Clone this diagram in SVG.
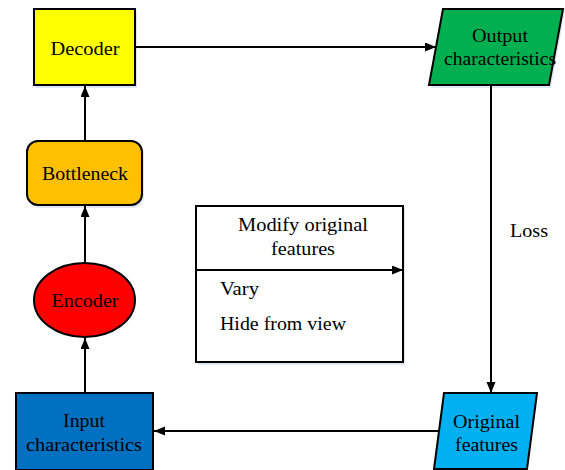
<svg xmlns="http://www.w3.org/2000/svg" width="565" height="470" viewBox="0 0 565 470">
<defs>
<marker id="arr" markerWidth="12" markerHeight="10" refX="11" refY="4.5" orient="auto" markerUnits="userSpaceOnUse">
<path d="M0,0 L11,4.5 L0,9 z" fill="#000"/>
</marker>
<style>
.n{stroke:#000;stroke-width:2}
.sh{fill:#dfe8f2;stroke:none}
text{font-family:"Liberation Serif","Times New Roman","DejaVu Serif",serif;font-size:18px;fill:#000}
.t{text-anchor:middle}
.c{stroke:#000;stroke-width:2;fill:none;marker-end:url(#arr)}
</style>
</defs>
<rect width="565" height="470" fill="#fff"/>
<g id="decoder">
<rect class="sh" x="36" y="11" width="101" height="77"/>
<rect class="n" x="34" y="9" width="101" height="76" fill="#FFFF00"/>
<text class="t" x="85" y="55" textLength="69" lengthAdjust="spacingAndGlyphs">Decoder</text>
</g>
<g id="bottleneck">
<rect class="sh" x="29" y="143" width="115" height="65" rx="11"/>
<rect class="n" x="27" y="141" width="115" height="64" rx="11" fill="#FFC000"/>
<text class="t" x="85" y="180" textLength="86" lengthAdjust="spacingAndGlyphs">Bottleneck</text>
</g>
<g id="encoder">
<ellipse class="n" cx="84.5" cy="300" rx="50.5" ry="37" fill="#FF0000"/>
<text class="t" x="85" y="307" textLength="67" lengthAdjust="spacingAndGlyphs">Encoder</text>
</g>
<g id="input">
<rect class="n" x="16" y="393" width="137" height="77" fill="#0070C0"/>
<text class="t" x="84" y="427" textLength="42" lengthAdjust="spacingAndGlyphs">Input</text>
<text class="t" x="84" y="451" textLength="116" lengthAdjust="spacingAndGlyphs">characteristics</text>
</g>
<g id="output">
<polygon class="sh" points="445,11 565,11 551,88 431,88"/>
<polygon class="n" points="443,9 563,9 549,85 429,85" fill="#00B050"/>
<text class="t" x="500" y="42" textLength="56" lengthAdjust="spacingAndGlyphs">Output</text>
<text class="t" x="500" y="65" textLength="112" lengthAdjust="spacingAndGlyphs">characteristics</text>
</g>
<g id="original">
<polygon class="n" points="444,393 537,393 527,469 434,469" fill="#00B0F0"/>
<text class="t" x="486.5" y="428" textLength="67" lengthAdjust="spacingAndGlyphs">Original</text>
<text class="t" x="486.5" y="451" textLength="63" lengthAdjust="spacingAndGlyphs">features</text>
</g>
<g id="modify">
<rect class="sh" x="198" y="208" width="207" height="157"/>
<rect class="n" x="196" y="206" width="207" height="156" fill="#fff"/>
<text class="t" x="303" y="231" textLength="130" lengthAdjust="spacingAndGlyphs">Modify original</text>
<text class="t" x="303" y="255" textLength="64" lengthAdjust="spacingAndGlyphs">features</text>
<text x="220" y="295" textLength="39" lengthAdjust="spacingAndGlyphs">Vary</text>
<text x="220" y="330" textLength="126" lengthAdjust="spacingAndGlyphs">Hide from view</text>
</g>
<g id="loss">
<text x="510" y="237" textLength="38" lengthAdjust="spacingAndGlyphs">Loss</text>
</g>
<g id="connectors">
<line class="c" x1="85" y1="393" x2="85" y2="338"/>
<line class="c" x1="85" y1="263" x2="85" y2="206"/>
<line class="c" x1="85" y1="141" x2="85" y2="86"/>
<line class="c" x1="135" y1="47" x2="436" y2="47"/>
<line class="c" x1="491" y1="85" x2="491" y2="393"/>
<line class="c" x1="439" y1="431" x2="154" y2="431"/>
<line class="c" x1="196" y1="270" x2="403" y2="270"/>
</g>
</svg>
